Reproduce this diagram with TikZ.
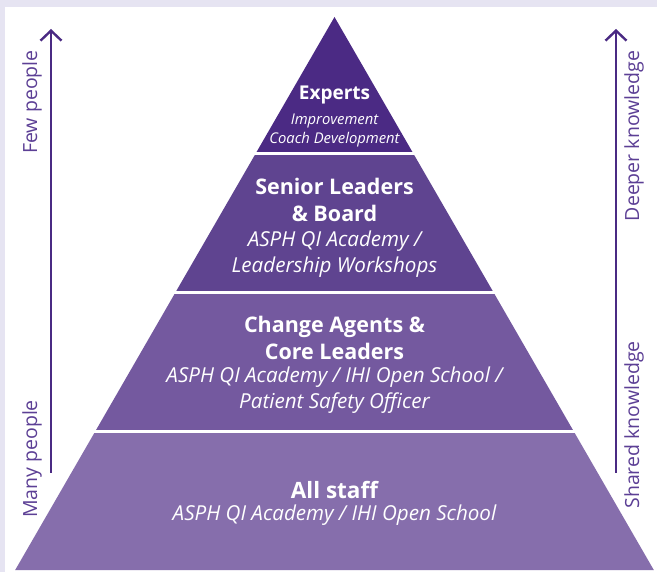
\documentclass[tikz,border=0pt]{standalone}
\usepackage{fontspec}
\setmainfont{Open Sans}
\usetikzlibrary{arrows.meta}
\definecolor{frameC}{HTML}{E6E4F2}
\definecolor{tierA}{HTML}{4B2A84}
\definecolor{tierB}{HTML}{5F4490}
\definecolor{tierC}{HTML}{74599F}
\definecolor{tierD}{HTML}{866EAC}
\definecolor{arrowC}{HTML}{4A2A83}
\definecolor{sideC}{HTML}{5C3F95}
\tikzset{
  tiertitle/.style={text=white, font=\bfseries\fontsize{21.5}{27}\selectfont, align=center, inner sep=0pt},
  tiersub/.style={text=white, font=\itshape\fontsize{20.6}{26}\selectfont, align=center, inner sep=0pt},
  sidelabel/.style={text=sideC, font=\fontsize{19.5}{20}\selectfont, rotate=90, inner sep=0pt},
  sidearrow/.style={draw=arrowC, line width=2.4pt, -{Straight Barb[length=10pt,width=21pt,line width=2.4pt]}},
  gap/.style={draw=white, line width=3pt}
}
\begin{document}
\begin{tikzpicture}[x=1pt,y=-1pt]
\useasboundingbox (0,0) rectangle (657,572);
\fill[frameC] (0,0) rectangle (657,572);
\fill[white] (5,7) rectangle (657,572);
% tiers
\fill[tierA] (334.5,17) -- (413.3,153.5) -- (255.7,153.5) -- cycle;
\fill[tierB] (255.7,153.5) -- (413.3,153.5) -- (493.6,292.5) -- (175.4,292.5) -- cycle;
\fill[tierC] (175.4,292.5) -- (493.6,292.5) -- (574.1,432) -- (94.9,432) -- cycle;
\fill[tierD] (94.9,432) -- (574.1,432) -- (653.8,570) -- (15.2,570) -- cycle;
\draw[gap] (240,153.5) -- (430,153.5);
\draw[gap] (160,292.5) -- (510,292.5);
\draw[gap] (80,432) -- (590,432);
% texts
\node[tiertitle, font=\bfseries\fontsize{19}{22}\selectfont] (t1) at (334.5,95) {Experts};
\node[tiersub, font=\itshape\fontsize{14.8}{19}\selectfont] (s1) at (334.5,130) {Improvement\\Coach Development};
\node[tiertitle] (t2) at (334.5,199.5) {Senior Leaders\\\& Board};
\node[tiersub] (s2) at (334.5,254.5) {ASPH QI Academy /\\Leadership Workshops};
\node[tiertitle] (t3) at (334.5,337.5) {Change Agents \&\\Core Leaders};
\node[tiersub] (s3) at (334.5,390) {ASPH QI Academy / IHI Open School /\\Patient Safety Officer};
\node[tiertitle, font=\bfseries\fontsize{22.5}{27}\selectfont] (t4) at (334.5,490) {All staff};
\node[tiersub] (s4) at (334.5,515.5) {ASPH QI Academy / IHI Open School};
% side arrows
\coordinate (la0) at (51,473);
\coordinate (la1) at (51,29);
\coordinate (ra0) at (616,473);
\coordinate (ra1) at (616,29);
\draw[sidearrow] (la0) -- (la1);
\draw[sidearrow] (ra0) -- (ra1);
\node[sidelabel] (few) at (32,102) {Few people};
\node[sidelabel] (many) at (32,459) {Many people};
\node[sidelabel] (deep) at (634,136) {Deeper knowledge};
\node[sidelabel] (shared) at (634,425) {Shared knowledge};
\end{tikzpicture}
\end{document}
